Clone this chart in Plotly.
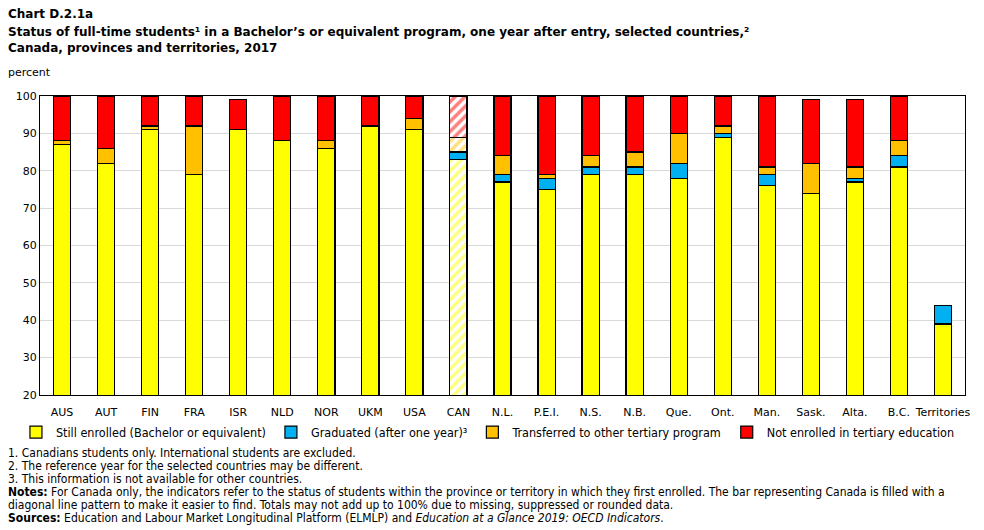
import plotly.graph_objects as go

categories = ["AUS", "AUT", "FIN", "FRA", "ISR", "NLD", "NOR", "UKM", "USA", "CAN",
              "N.L.", "P.E.I.", "N.S.", "N.B.", "Que.", "Ont.", "Man.", "Sask.", "Alta.", "B.C.", "Territories"]
still_enrolled = [87, 82, 91, 79, 91, 88, 86, 92, 91, 83, 77, 75, 79, 79, 78, 89, 76, 74, 77, 81, 39]
graduated = [0, 0, 0, 0, 0, 0, 0, 0, 0, 2, 2, 3, 2, 2, 4, 1, 3, 0, 1, 3, 5]
transferred = [1, 4, 1, 13, 0, 0, 2, 0, 3, 4, 5, 1, 3, 4, 8, 2, 2, 8, 3, 4, 0]
not_enrolled = [12, 14, 8, 8, 8, 12, 12, 8, 6, 11, 16, 21, 16, 15, 10, 8, 19, 17, 18, 12, 0]

series = [
    ("Still enrolled (Bachelor or equivalent)", still_enrolled, "#FFFF00", True),
    ("Graduated (after one year)³", graduated, "#00B0F0", False),
    ("Transferred to other tertiary program", transferred, "#FFC000", True),
    ("Not enrolled in tertiary education", not_enrolled, "#FF0000", True),
]

FONT = "DejaVu Sans, Verdana, sans-serif"
SMALL = "Liberation Sans Narrow, DejaVu Sans Condensed, Arial Narrow, Liberation Sans, sans-serif"

fig = go.Figure()
for name, vals, color, hatch in series:
    shapes = ["/" if (hatch and c == "CAN") else "" for c in categories]
    bgs = ["white" if s else color for s in shapes]
    fig.add_trace(go.Bar(
        name=name, x=categories, y=vals,
        marker=dict(color=color, line=dict(color="black", width=1.2),
                    pattern=dict(shape=shapes, bgcolor=bgs, fgcolor=color,
                                 size=7, solidity=0.5)),
        hoverinfo="x+y+name",
    ))

fig.update_layout(
    barmode="stack",
    bargap=0.61,
    width=984, height=530,
    margin=dict(l=40, r=19, t=96, b=135),
    plot_bgcolor="white", paper_bgcolor="white",
    font=dict(family=FONT, size=11, color="black"),
    showlegend=True,
    legend=dict(orientation="h", x=-0.026, xanchor="left", y=-0.075, yanchor="top",
                font=dict(family=SMALL, size=12.5), itemwidth=30, traceorder="normal",
                tracegroupgap=0),
)
fig.update_xaxes(showline=True, linecolor="black", linewidth=1, mirror=True,
                 ticks="", tickfont=dict(family=FONT, size=11), ticklabelstandoff=7)
fig.update_yaxes(range=[20, 100], dtick=10, showline=True, linecolor="black", linewidth=1,
                 mirror=True, showgrid=True, gridcolor="#d9d9d9", ticks="",
                 tickfont=dict(family=FONT, size=11), zeroline=False)


def add_text(text, x, y, size, family):
    fig.add_annotation(xref="paper", yref="paper",
                       x=(x - 40) / 925, y=(395 - y) / 299,
                       xanchor="left", yanchor="middle", text=text, showarrow=False,
                       font=dict(family=family, size=size, color="black"), align="left")


add_text("<b>Chart D.2.1a</b>", 6, 14, 12, FONT)
add_text("<b>Status of full-time students¹ in a Bachelor’s or equivalent program, one year after entry, selected countries,²</b>", 6, 32, 12, FONT)
add_text("<b>Canada, provinces and territories, 2017</b>", 6, 48, 12, FONT)
add_text("percent", 6, 72, 11, FONT)

notes = [
    ("1. Canadians students only. International students are excluded.", 453),
    ("2. The reference year for the selected countries may be different.", 466),
    ("3. This information is not available for other countries.", 479),
    ("<b>Notes:</b> For Canada only, the indicators refer to the status of students within the province or territory in which they first enrolled. The bar representing Canada is filled with a", 492),
    ("diagonal line pattern to make it easier to find. Totals may not add up to 100% due to missing, suppressed or rounded data.", 505),
    ("<b>Sources:</b> Education and Labour Market Longitudinal Platform (ELMLP) and <i>Education at a Glance 2019: OECD Indicators</i>.", 518),
]
for t, y in notes:
    add_text(t, 6, y, 12, SMALL)

fig.write_html("out.html")
